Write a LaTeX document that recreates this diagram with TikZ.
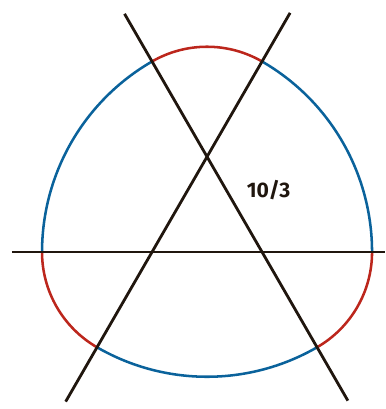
\documentclass[tikz,border=0pt]{standalone}
\usepackage{fontspec}
\setsansfont{Fira Sans}
\usetikzlibrary{calc}
\definecolor{cblue}{RGB}{10,98,155}
\definecolor{cred}{RGB}{188,38,28}
\definecolor{cline}{RGB}{32,22,14}

\begin{document}
\begin{tikzpicture}[scale=2.75, every node/.style={font=\sffamily\bfseries\fontsize{15}{17}\selectfont, text=cline}]
      \useasboundingbox (-1.382,-1.427) rectangle (2.118,2.291);
      \coordinate (A) at (0,0); \coordinate (B) at (1,0); \coordinate (C) at (0.5,0.866);
      % arcs of the curve, radius 1 and 2 round the corners
      \draw[cred, line width=1.8pt] (C) ++(60:1) arc[start angle=60, end angle=120, radius=1];
      \draw[cblue, line width=1.8pt] (B) ++(120:2) arc[start angle=120, end angle=180, radius=2];
      \draw[cred, line width=1.8pt] (A) ++(180:1) arc[start angle=180, end angle=240, radius=1];
      \draw[cblue, line width=1.8pt] (C) ++(240:2) arc[start angle=240, end angle=300, radius=2];
      \draw[cred, line width=1.8pt] (B) ++(300:1) arc[start angle=300, end angle=360, radius=1];
      \draw[cblue, line width=1.8pt] (A) ++(0:2) arc[start angle=0, end angle=60, radius=2];
      % the three lines
      \coordinate (h0) at (-1.273,0); \coordinate (h1) at (2.118,0);
      \coordinate (a0) at ($(A)+(240:1.57)$); \coordinate (a1) at ($(A)+(60:2.51)$);
      \coordinate (b0) at ($(B)+(300:1.56)$); \coordinate (b1) at ($(B)+(120:2.5)$);
      \draw[cline, line width=2pt] (h0)--(h1);
      \draw[cline, line width=2pt] (a0)--(a1); \draw[cline, line width=2pt] (b0)--(b1);
      \node (width) at (1.059,0.559) {10/3};
    \end{tikzpicture}
\end{document}
